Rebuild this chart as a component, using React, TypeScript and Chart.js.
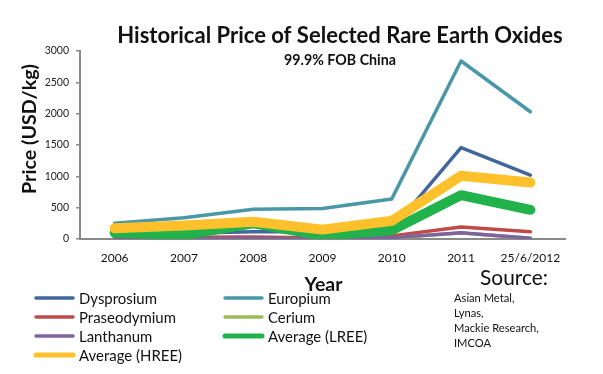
import React, { useEffect, useRef } from "react";
import { Chart, registerables } from "chart.js";

Chart.register(...registerables);

const categories = ["2006", "2007", "2008", "2009", "2010", "2011", "25/6/2012"];
const dysprosium = [95, 90, 115, 115, 150, 1460, 1020];
const europium = [250, 340, 475, 485, 640, 2840, 2030];
const praseodymium = [20, 28, 30, 17, 50, 190, 115];
const cerium = [3, 3, 5, 4, 18, 95, 12];
const lanthanum = [4, 4, 7, 5, 22, 100, 12];
const averageLree = [100, 65, 250, 55, 140, 700, 465];
const averageHree = [172, 215, 275, 150, 290, 1010, 900];
const yTicks = [0, 500, 1000, 1500, 2000, 2500, 3000];
const sourceLines = ["Asian Metal,", "Lynas,", "Mackie Research,", "IMCOA"];

const FAMILY = "Lato";

function fitSize(ctx: CanvasRenderingContext2D, text: string, weight: string, target: number) {
  ctx.font = `${weight} 100px ${FAMILY}`;
  const w = ctx.measureText(text).width;
  return (100 * target) / w;
}

const decorPlugin = {
  id: "decor",
  afterDraw(chart: any) {
    const ctx: CanvasRenderingContext2D = chart.ctx;
    ctx.save();
    ctx.fillStyle = "#111";
    ctx.textAlign = "center";
    ctx.textBaseline = "alphabetic";

    // Title
    let s = fitSize(ctx, "Historical Price of Selected Rare Earth Oxides", "bold", 446);
    ctx.font = `bold ${s}px ${FAMILY}`;
    ctx.fillText("Historical Price of Selected Rare Earth Oxides", 340, 43);

    // Subtitle
    s = fitSize(ctx, "99.9% FOB China", "bold", 112);
    ctx.font = `bold ${s}px ${FAMILY}`;
    ctx.fillText("99.9% FOB China", 340, 65);

    // X axis title
    s = fitSize(ctx, "Year", "bold", 38);
    ctx.font = `bold ${s}px ${FAMILY}`;
    ctx.fillText("Year", 323.5, 291);

    // Y axis title
    s = fitSize(ctx, "Price (USD/kg)", "bold", 130);
    ctx.save();
    ctx.translate(30, 129);
    ctx.rotate(-Math.PI / 2);
    ctx.font = `bold ${s}px ${FAMILY}`;
    ctx.textBaseline = "middle";
    ctx.fillText("Price (USD/kg)", 0, 0);
    ctx.restore();

    // Source
    s = fitSize(ctx, "Source:", "normal", 68);
    ctx.font = `normal ${s}px ${FAMILY}`;
    ctx.fillText("Source:", 514, 285);

    s = fitSize(ctx, "Mackie Research,", "normal", 85);
    ctx.font = `normal ${s}px ${FAMILY}`;
    ctx.textAlign = "left";
    ctx.textBaseline = "middle";
    sourceLines.forEach((line, i) => {
      ctx.fillText(line, 454, 298 + i * 15);
    });

    // Legend
    const ls = fitSize(ctx, "Praseodymium", "normal", 97);
    ctx.font = `normal ${ls}px ${FAMILY}`;
    const colX = [34, 223];
    const rowY = [298, 317, 336, 355];
    chart.data.datasets.forEach((ds: any, i: number) => {
      const cx = colX[i % 2];
      const cy = rowY[Math.floor(i / 2)];
      ctx.strokeStyle = ds.borderColor;
      ctx.lineWidth = Math.min(ds.borderWidth, 5);
      ctx.lineCap = "round";
      ctx.beginPath();
      ctx.moveTo(cx + 2, cy);
      ctx.lineTo(cx + 39, cy);
      ctx.stroke();
      ctx.fillStyle = "#111";
      ctx.fillText(ds.label, cx + 45, cy + 1);
    });
    ctx.restore();
  },
};

function line(label: string, data: number[], color: string, width: number, order: number) {
  return {
    label,
    data,
    borderColor: color,
    backgroundColor: color,
    borderWidth: width,
    pointRadius: 0,
    pointHoverRadius: 0,
    tension: 0,
    borderCapStyle: "round" as const,
    borderJoinStyle: "round" as const,
    fill: false,
    order,
  };
}

export default function App() {
  const ref = useRef<HTMLCanvasElement>(null);
  useEffect(() => {
    document.body.style.margin = "0";
    const chart = new Chart(ref.current!, {
      type: "line",
      data: {
        labels: categories,
        datasets: [
          line("Dysprosium", dysprosium, "#42679C", 3.5, 6),
          line("Europium", europium, "#4A97A8", 3.5, 5),
          line("Praseodymium", praseodymium, "#BF4B48", 3.5, 4),
          line("Cerium", cerium, "#9BBB59", 3.5, 3),
          line("Lanthanum", lanthanum, "#7F63A1", 3.5, 2),
          line("Average (LREE)", averageLree, "#22B24C", 10, 1),
          line("Average (HREE)", averageHree, "#FEC12C", 10, 0),
        ],
      },
      options: {
        responsive: false,
        animation: false,
        events: [],
        layout: { padding: { top: 51, right: 38, bottom: 0, left: 0 } },
        plugins: {
          legend: { display: false },
          title: { display: false },
          tooltip: { enabled: false },
        },
        scales: {
          x: {
            type: "category",
            offset: true,
            grid: { display: false, drawTicks: false },
            border: { display: true, color: "#8A8A8A", width: 2 },
            ticks: {
              font: { family: FAMILY, size: 12 },
              color: "#111",
              padding: 12,
              maxRotation: 0,
              autoSkip: false,
            },
            afterFit: (s: any) => {
              s.height = 135;
            },
          },
          y: {
            min: 0,
            max: 3000,
            afterBuildTicks: (s: any) => {
              s.ticks = yTicks.map((v) => ({ value: v }));
            },
            grid: { drawOnChartArea: false, drawTicks: true, tickLength: 4, color: "#8A8A8A", lineWidth: 1.5 },
            border: { display: true, color: "#8A8A8A", width: 2 },
            ticks: {
              font: { family: FAMILY, size: 10.5 },
              color: "#222",
              padding: 7,
              callback: (v: any) => String(v),
            },
            afterFit: (s: any) => {
              s.width = 80;
            },
          },
        },
      },
      plugins: [decorPlugin],
    });
    return () => chart.destroy();
  }, []);
  return (
    <div style={{ width: 603, height: 374, background: "#fff" }}>
      <canvas ref={ref} width={603} height={374} style={{ display: "block" }} />
    </div>
  );
}
